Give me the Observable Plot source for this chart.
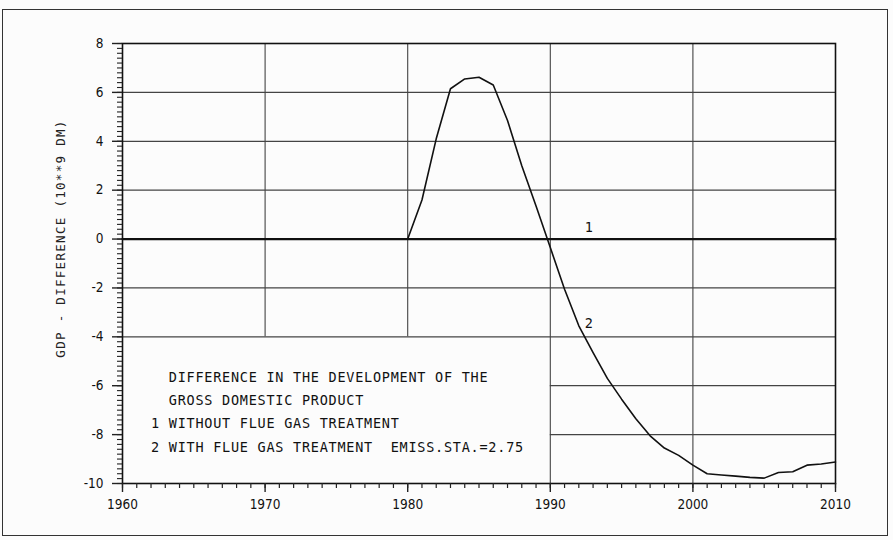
<!DOCTYPE html>
<html>
<head>
<meta charset="utf-8">
<script src="https://cdn.jsdelivr.net/npm/d3@7"></script>
<script src="https://cdn.jsdelivr.net/npm/@observablehq/plot@0.6"></script>
<style>
  html, body { margin: 0; padding: 0; background: #fcfcfc; }
  #wrap { position: relative; width: 893px; height: 540px; overflow: hidden; }
  #outer { position: absolute; left: 2px; top: 9px; width: 886px; height: 527px; border: 1.5px solid #333; box-sizing: border-box; pointer-events: none; }
  svg g.pre text { white-space: pre; letter-spacing: 0.75px; }
  svg g.ytitle text { letter-spacing: 1.3px; }
</style>
</head>
<body>
<div id="wrap"><div id="outer"></div></div>
<script>
// ---- data ----
const years = d3.range(1960, 2011);
// series 1: without flue gas treatment (reference, zero difference)
const series1 = years.map(() => 0);
// series 2: with flue gas treatment, EMISS.STA.=2.75
const series2 = [
  0, 0, 0, 0, 0, 0, 0, 0, 0, 0,          // 1960-1969
  0, 0, 0, 0, 0, 0, 0, 0, 0, 0,          // 1970-1979
  0, 1.6, 4.1, 6.15, 6.55, 6.62, 6.3, 4.85, 3.0, 1.35,          // 1980-1989
  -0.35, -2.05, -3.55, -4.65, -5.7, -6.55, -7.35, -8.05, -8.55, -8.85, // 1990-1999
  -9.25, -9.6, -9.65, -9.7, -9.75, -9.78, -9.55, -9.52, -9.25, -9.2,   // 2000-2009
  -9.12                                   // 2010
];
const xMajorTicks = [1960, 1970, 1980, 1990, 2000, 2010];
const xMinorTicks = d3.range(1960, 2011);
const yMajorTicks = [-10, -8, -6, -4, -2, 0, 2, 4, 6, 8];
const yMinorTicks = d3.range(-50, 41).map(d => d / 5);
const gridYFull = [-4, -2, 2, 4, 6];
const gridYRight = [-8, -6];
const gridXFull = [1990, 2000];
const gridXTop = [1970, 1980];
const yTitle = "GDP - DIFFERENCE (10**9 DM)";
const noteText = "  DIFFERENCE IN THE DEVELOPMENT OF THE\n  GROSS DOMESTIC PRODUCT\n1 WITHOUT FLUE GAS TREATMENT\n2 WITH FLUE GAS TREATMENT  EMISS.STA.=2.75";
const seriesLabels = [{label: "1", year: 1992.7, value: 0.45}, {label: "2", year: 1992.7, value: -3.45}];

const rows1 = years.map((y, i) => ({year: y, value: series1[i]}));
const rows2 = years.map((y, i) => ({year: y, value: series2[i]}));

const mono = "'DejaVu Sans Mono', monospace";
const narrow = "'Liberation Sans Narrow', 'DejaVu Sans Condensed', 'DejaVu Sans', sans-serif";

const chart = Plot.plot({
  width: 893,
  height: 540,
  marginLeft: 122,
  marginRight: 58,
  marginTop: 43,
  marginBottom: 57,
  style: {background: "transparent", fontFamily: narrow, fontSize: "13px", color: "#222"},
  x: {domain: [1960, 2010]},
  y: {domain: [-10, 8]},
  marks: [
    // grid
    Plot.ruleY(gridYFull, {stroke: "#444", strokeWidth: 1.2}),
    Plot.ruleY(gridYRight, {x1: 1990, x2: 2010, stroke: "#444", strokeWidth: 1.2}),
    Plot.ruleX(gridXFull, {stroke: "#444", strokeWidth: 1.1}),
    Plot.ruleX(gridXTop, {y1: -4, y2: 8, stroke: "#444", strokeWidth: 1.1}),
    // frame
    Plot.frame({stroke: "#111", strokeWidth: 1.6}),
    // axes
    Plot.axisX({ticks: xMinorTicks, tickSize: 5, tickFormat: () => "", label: null, strokeWidth: 1.2}),
    Plot.axisX({ticks: xMajorTicks, tickSize: 9, tickPadding: 7, tickFormat: d => String(d), label: null, fontFamily: narrow, fontSize: 13.5, strokeWidth: 1.4, fill: "#111"}),
    Plot.axisY({ticks: yMinorTicks, tickSize: 5, tickFormat: () => "", label: null, strokeWidth: 1.1}),
    Plot.axisY({ticks: yMajorTicks, tickSize: 10, tickPadding: 9, tickFormat: d => String(d), label: null, fontFamily: narrow, fontSize: 13.5, strokeWidth: 1.4, fill: "#111"}),
    // series
    Plot.line(rows1, {x: "year", y: "value", stroke: "#111", strokeWidth: 2.2}),
    Plot.line(rows2, {x: "year", y: "value", stroke: "#111", strokeWidth: 1.6}),
    Plot.text(seriesLabels, {x: "year", y: "value", text: "label", fontFamily: mono, fontSize: 13.5, fill: "#111"}),
    // note
    Plot.text([noteText], {x: 1962, y: -5.16, text: d => d, textAnchor: "start", lineAnchor: "top", lineHeight: 1.73, fontFamily: mono, fontSize: 13.5, fill: "#111", className: "pre"}),
    // y title
    Plot.text([yTitle], {frameAnchor: "left", dx: -62, dy: -25, rotate: -90, textAnchor: "middle", text: d => d, fontFamily: mono, fontSize: 12.5, fill: "#222", className: "ytitle"})
  ]
});
document.getElementById("wrap").prepend(chart);
</script>
</body>
</html>
